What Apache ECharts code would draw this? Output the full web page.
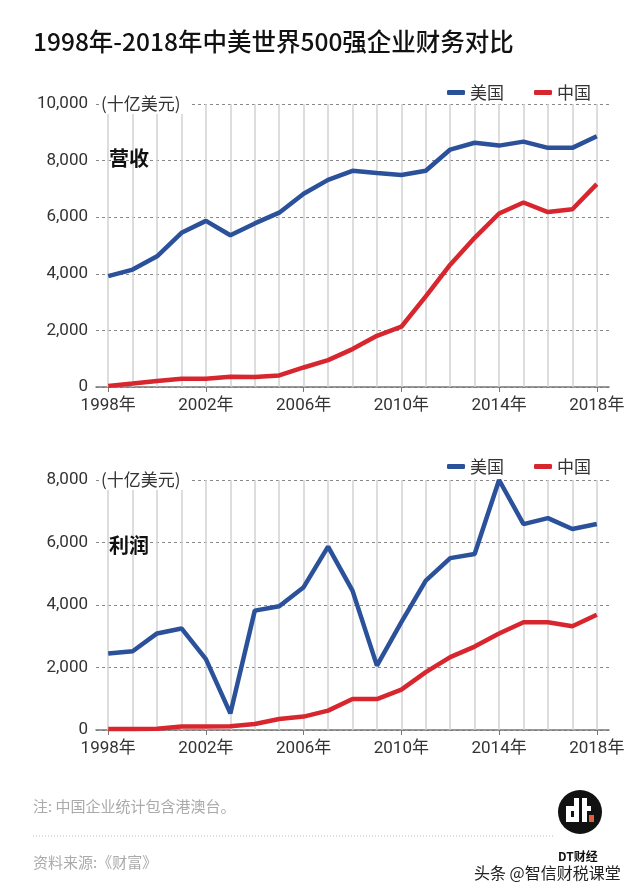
<!DOCTYPE html>
<html><head><meta charset="utf-8">
<script src="https://cdn.jsdelivr.net/npm/echarts@6/dist/echarts.min.js"></script>
<style>html,body{margin:0;padding:0;background:#fff}#c{width:640px;height:885px}</style>
</head><body><div id="c"></div>
<script>
const years = ['1998','1999','2000','2001','2002','2003','2004','2005','2006','2007','2008','2009','2010','2011','2012','2013','2014','2015','2016','2017','2018'];
const usRevenue = [3920,4150,4620,5450,5870,5360,5780,6160,6830,7320,7640,7560,7490,7640,8390,8630,8530,8670,8450,8450,8860];
const cnRevenue = [40,120,210,290,290,360,350,410,690,950,1340,1810,2130,3200,4320,5270,6130,6520,6180,6280,7170];
const usProfit = [2450,2520,3090,3250,2270,530,3820,3960,4570,5870,4460,2060,3450,4780,5500,5630,8000,6590,6780,6430,6590];
const cnProfit = [30,30,40,110,110,120,190,350,430,620,990,990,1290,1850,2330,2670,3090,3450,3450,3320,3690];
const revTicks = {min:0, max:10000, interval:2000};
const profTicks = {min:0, max:8000, interval:2000};

const BLUE = '#2b519a', RED = '#d8262f';
const FONT = "Roboto, 'Noto Sans CJK SC', sans-serif";
const CJK = "'Noto Sans CJK SC', sans-serif";

function xAxis(gi){
  return {
    type:'category', gridIndex:gi, data:years, boundaryGap:true,
    axisLine:{show:true, lineStyle:{color:'#777', width:1.5}},
    axisTick:{show:true, alignWithLabel:true, length:5, lineStyle:{color:'#777'}},
    axisLabel:{interval:3, margin:10, fontSize:17, color:'#333', fontFamily:FONT, formatter:v=>v+'年'},
    splitLine:{show:false}
  };
}
function yAxis(gi, t){
  return {
    type:'value', gridIndex:gi, min:t.min, max:t.max, interval:t.interval,
    axisLine:{show:false}, axisTick:{show:false},
    axisLabel:{margin:8, fontSize:17, color:'#333', fontFamily:FONT, formatter:v=>v.toLocaleString('en-US')},
    splitLine:{show:true, lineStyle:{color:'#888', type:[3,3], width:1}}
  };
}
function line(name, data, color, gi){
  return {name, type:'line', xAxisIndex:gi, yAxisIndex:gi, data, symbol:'none', z:5,
    lineStyle:{color, width:4.5}, itemStyle:{color}};
}
function vlines(gi){
  return {name:'vl'+gi, type:'line', xAxisIndex:gi, yAxisIndex:gi, data:[], z:1, silent:true,
    markLine:{silent:true, symbol:'none', label:{show:false}, animation:false,
      lineStyle:{color:'#d2d2d2', type:'solid', width:1.5},
      data: years.map(y=>({xAxis:y}))}};
}
function legend(top){
  return {data:['美国','中国'], right:44, top, itemWidth:18, itemHeight:5, itemGap:30, icon:'roundRect',
    textStyle:{fontSize:17, color:'#333', fontFamily:CJK}};
}
function txt(x,y,text,size,color,weight){
  return {type:'text', x, y, z:100, style:{text, fontSize:size, fill:color, fontWeight:weight||'normal', fontFamily:CJK, textVerticalAlign:'middle'}};
}
function wrect(x,y,w,h,fill){
  return {type:'rect', z:102, shape:{x,y,width:w,height:h}, style:{fill:fill||'#fff'}};
}

const chart = echarts.init(document.getElementById('c'), null, {renderer:'canvas'});
chart.setOption({
  animation:false,
  backgroundColor:'#fff',
  grid:[
    {left:96, width:513, top:104, height:283},
    {left:96, width:513, top:480, height:250}
  ],
  xAxis:[xAxis(0), xAxis(1)],
  yAxis:[yAxis(0, revTicks), yAxis(1, profTicks)],
  legend:[legend(79), legend(453)],
  series:[
    vlines(0), vlines(1),
    line('美国', usRevenue, BLUE, 0), line('中国', cnRevenue, RED, 0),
    line('美国', usProfit, BLUE, 1), line('中国', cnProfit, RED, 1)
  ],
  graphic:[
    txt(33, 42, '1998年-2018年中美世界500强企业财务对比', 24.5, '#111', 500),
    {type:'rect', z:99, shape:{x:99, y:94, width:90, height:20}, style:{fill:'#fff'}},
    txt(101, 104, '(十亿美元)', 17, '#333'),
    txt(109, 158, '营收', 20, '#111', 'bold'),
    {type:'rect', z:99, shape:{x:99, y:470, width:90, height:20}, style:{fill:'#fff'}},
    txt(101, 480, '(十亿美元)', 17, '#333'),
    txt(109, 545, '利润', 20, '#111', 'bold'),
    txt(33, 806, '注: 中国企业统计包含港澳台。', 15, '#aaa'),
    {type:'line', z:100, shape:{x1:33, y1:836, x2:555, y2:836}, style:{stroke:'#bbb', lineWidth:1, lineDash:[1,2]}},
    txt(33, 862, '资料来源:《财富》', 15, '#aaa'),
    {type:'circle', z:101, shape:{cx:580, cy:812, r:22}, style:{fill:'#111'}},
    wrect(566, 806, 13, 16), wrect(571, 811, 3, 6, '#111'), wrect(574, 798, 5, 24),
    wrect(582, 798, 5, 24), wrect(582, 806, 9, 5),
    wrect(589, 815, 5, 7, '#e0603a'),
    txt(558, 856, 'DT财经', 12, '#111', 'bold'),
    txt(474, 873, '头条 @智信财税课堂', 16, '#222')
  ]
});
</script></body></html>
